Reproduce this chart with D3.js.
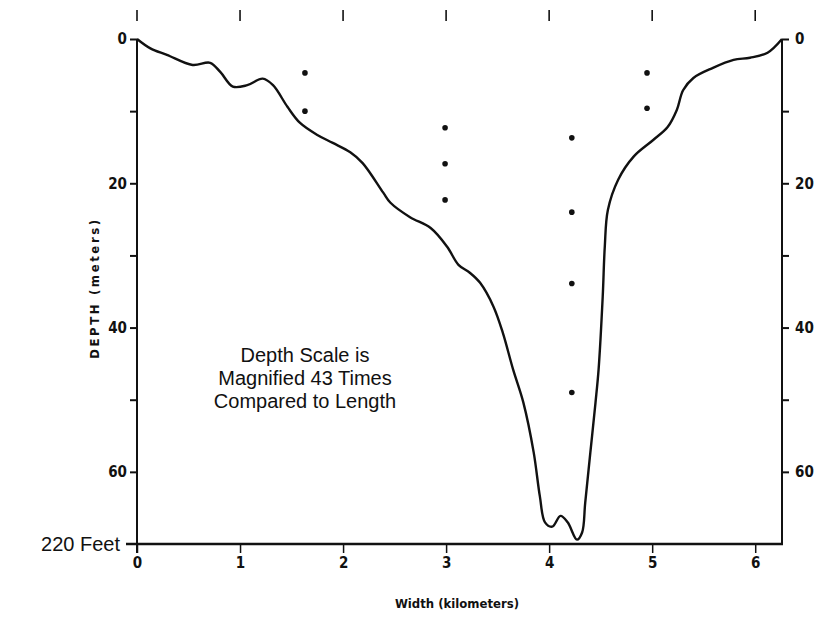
<!DOCTYPE html>
<html>
<head>
<meta charset="utf-8">
<script src="https://cdn.jsdelivr.net/npm/d3@7"></script>
<style>
    body { margin: 0; background: #fff; }
    svg { display: block; }
    .tick-label { font-family: "Liberation Sans Narrow", "DejaVu Sans Condensed", Arial, sans-serif; font-weight: bold; font-size: 15px; fill: #111; }
    .axis-title { font-family: "Liberation Sans Narrow", "DejaVu Sans Condensed", Arial, sans-serif; font-weight: bold; font-size: 13px; fill: #111; }
    .note { font-family: "Liberation Sans", Arial, sans-serif; font-size: 20px; fill: #111; }
</style>
</head>
<body>
<div id="chart"></div>
<script>
// profilo del canale: distanza (km) e profondità (m)
const profileKm = [0, 0.13, 0.29, 0.54, 0.71, 0.81, 0.93, 1.07, 1.22, 1.32, 1.46, 1.58, 1.75, 1.90, 2.07, 2.19,
    2.39, 2.46, 2.65, 2.85, 3.01, 3.12, 3.23, 3.33, 3.46, 3.55, 3.65, 3.75, 3.85, 3.91, 3.96, 4.03, 4.11,
    4.18, 4.27, 4.32, 4.35, 4.40, 4.45, 4.48, 4.52, 4.54, 4.57, 4.67, 4.82, 5.01, 5.15, 5.24, 5.30, 5.40,
    5.59, 5.79, 5.95, 6.12, 6.26];
const profileDepth = [0, 1.3, 2.2, 3.6, 3.3, 4.6, 6.6, 6.4, 5.5, 6.4, 9.4, 11.6, 13.3, 14.4, 15.7, 17.2,
    21.3, 22.7, 24.7, 26.2, 28.8, 31.3, 32.4, 33.8, 37.1, 40.7, 45.8, 50.4, 57.3, 63.4, 67.0, 67.6, 66.1,
    67.0, 69.4, 68.4, 64.3, 57.3, 50.4, 45.8, 35.7, 28.8, 23.7, 19.5, 16.3, 14.0, 12.2, 9.8, 7.1, 5.4,
    4.0, 2.9, 2.6, 1.9, 0];

// punti di campionamento
const sampleKm = [1.63, 1.63, 2.99, 2.99, 2.99, 4.22, 4.22, 4.22, 4.22, 4.95, 4.95];
const sampleDepth = [4.7, 10.0, 12.3, 17.3, 22.3, 13.7, 24.0, 33.9, 49.0, 4.7, 9.6];

const kmTicks = [0, 1, 2, 3, 4, 5, 6];
const depthTicks = [0, 20, 40, 60];
const minorDepthTicks = [10, 30, 50];
const noteLines = ["Depth Scale is", "Magnified 43 Times", "Compared to Length"];

const width = 826;
const height = 623;

const svg = d3.select("#chart")
    .append("svg")
    .attr("width", width)
    .attr("height", height);

const x = d3.scaleLinear().domain([0, 6.26]).range([137, 782]);
const y = d3.scaleLinear().domain([0, 70]).range([39, 544]);

// asse sinistro
const leftAxis = svg.append("g")
    .attr("transform", `translate(${x(0)},0)`)
    .call(d3.axisLeft(y).tickValues(depthTicks.concat(minorDepthTicks)).tickSize(7).tickFormat(d => depthTicks.includes(d) ? d : ""));

// asse destro
const rightAxis = svg.append("g")
    .attr("transform", `translate(${x(6.26)},0)`)
    .call(d3.axisRight(y).tickValues(depthTicks.concat(minorDepthTicks)).tickSize(7).tickFormat(d => depthTicks.includes(d) ? d : ""));

[leftAxis, rightAxis].forEach(g => {
    g.select(".domain").remove();
    g.selectAll(".tick line").attr("stroke", "#111").attr("stroke-width", 2);
    g.selectAll(".tick text").attr("class", "tick-label").attr("font-family", null).attr("font-size", null);
});
leftAxis.selectAll(".tick text").attr("x", -10);
rightAxis.selectAll(".tick text").attr("x", 13);

svg.append("line")
    .attr("x1", x(0)).attr("x2", x(0))
    .attr("y1", y(0)).attr("y2", y(70) + 9)
    .attr("stroke", "#111").attr("stroke-width", 2);
svg.append("line")
    .attr("x1", x(6.26)).attr("x2", x(6.26))
    .attr("y1", y(0)).attr("y2", y(70))
    .attr("stroke", "#111").attr("stroke-width", 2);

// asse inferiore
const bottomAxis = svg.append("g")
    .attr("transform", `translate(0,${y(70)})`)
    .call(d3.axisBottom(x).tickValues(kmTicks).tickSize(9).tickFormat(d3.format("d")));
bottomAxis.select(".domain").remove();
bottomAxis.selectAll(".tick line").attr("stroke", "#111").attr("stroke-width", 1.5);
bottomAxis.selectAll(".tick text").attr("class", "tick-label").attr("font-family", null).attr("font-size", null).attr("y", 13);

svg.append("line")
    .attr("x1", x(0) - 11).attr("x2", x(6.26) + 1)
    .attr("y1", y(70)).attr("y2", y(70))
    .attr("stroke", "#111").attr("stroke-width", 2.5);

// tacche in alto
svg.append("g")
    .selectAll("line")
    .data(kmTicks)
    .join("line")
    .attr("x1", d => x(d)).attr("x2", d => x(d))
    .attr("y1", 10).attr("y2", 21)
    .attr("stroke", "#111").attr("stroke-width", 1.6);

// profilo
const line = d3.line()
    .x(d => x(d[0]))
    .y(d => y(d[1]))
    .curve(d3.curveCatmullRom.alpha(0.5));

svg.append("path")
    .datum(profileKm.map((k, i) => [k, profileDepth[i]]))
    .attr("d", line)
    .attr("fill", "none")
    .attr("stroke", "#111")
    .attr("stroke-width", 2.4);

// punti
svg.append("g")
    .selectAll("circle")
    .data(sampleKm.map((k, i) => [k, sampleDepth[i]]))
    .join("circle")
    .attr("cx", d => x(d[0]))
    .attr("cy", d => y(d[1]))
    .attr("r", 2.8)
    .attr("fill", "#111");

// titoli assi
svg.append("text")
    .attr("class", "axis-title")
    .attr("transform", `translate(99,288) rotate(-90)`)
    .attr("text-anchor", "middle")
    .attr("letter-spacing", 2.6)
    .text("DEPTH (meters)");

svg.append("text")
    .attr("class", "axis-title")
    .attr("x", 457)
    .attr("y", 608)
    .attr("text-anchor", "middle")
    .text("Width (kilometers)");

// nota
svg.append("text")
    .attr("class", "note")
    .attr("text-anchor", "middle")
    .selectAll("tspan")
    .data(noteLines)
    .join("tspan")
    .attr("x", 305)
    .attr("y", (d, i) => 362 + i * 23)
    .text(d => d);

svg.append("text")
    .attr("class", "note")
    .attr("x", 120)
    .attr("y", 551)
    .attr("font-size", 18)
    .attr("text-anchor", "end")
    .text("220 Feet");
</script>
</body>
</html>
